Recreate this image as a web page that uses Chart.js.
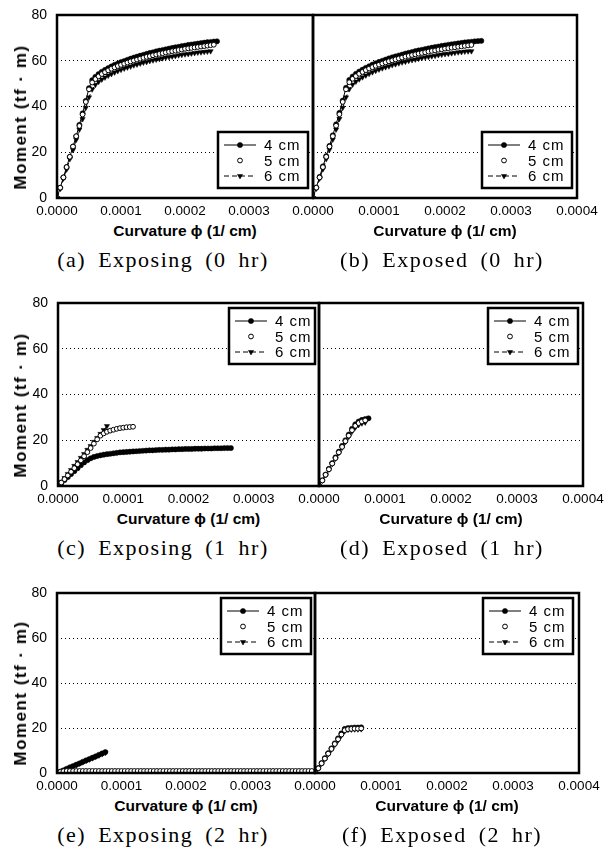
<!DOCTYPE html>
<html>
<head>
<meta charset="utf-8">
<script src="https://cdn.jsdelivr.net/npm/chart.js@4.4.1/dist/chart.umd.min.js"></script>
<style>
  body { margin: 0; background: #fff; }
  #fig { position: relative; width: 606px; height: 849px; overflow: hidden; background: #fff; }
  #fig canvas { position: absolute; }
  .ytitle { position: absolute; font: bold 17px "Liberation Sans", Arial, sans-serif; letter-spacing: 1.5px;
            white-space: nowrap; transform: translate(-50%, -50%) rotate(-90deg); }
  .xtitle { position: absolute; font: bold 15.5px "Liberation Sans", Arial, sans-serif;
            white-space: nowrap; transform: translate(-50%, -50%); }
  .cap { position: absolute; font: 22px "Liberation Serif", "Times New Roman", serif; letter-spacing: 1.5px;
         word-spacing: 5px; white-space: nowrap; transform: translate(-50%, -50%); }
</style>
</head>
<body>
<div id="fig"></div>
<script>
// curvature sample points, in 1e-6 (1/cm)
const phi = [0,5,10,15,20,25,30,35,40,45,50,55,60,65,70,75,80,85,90,95,
  100,105,110,115,120,125,130,135,140,145,150,155,160,165,170,175,180,185,190,195,
  200,205,210,215,220,225,230,235,240,245,250,255,260,265,270,275,280,285,290,295,
  300,305,310,315,320,325,330,335,340,345,350,355,360,365,370,375,380,385,390,395];

const seriesLabels = ['4 cm', '5 cm', '6 cm'];
const xTicks = ['0.0000', '0.0001', '0.0002', '0.0003', '0.0004'];
const yTicks = [0, 20, 40, 60, 80];
const captions = ['(a) Exposing (0 hr)', '(b) Exposed (0 hr)', '(c) Exposing (1 hr)',
  '(d) Exposed (1 hr)', '(e) Exposing (2 hr)', '(f) Exposed (2 hr)'];

// moment (tf·m) at each curvature point above
// (a) Exposing 0 hr
const a4 = [0,4.5,9,13.5,18,22.5,27,32,37,42.5,48,51.5,53,54.2,55.2,56,56.8,57.5,58.2,58.8,
  59.4,59.9,60.4,60.9,61.4,61.8,62.2,62.6,63,63.4,63.7,64.1,64.4,64.7,65,65.3,65.6,65.9,66.1,66.4,
  66.6,66.9,67.1,67.3,67.5,67.7,67.9,68.1,68.2,68.4,68.5];
const a5 = [0,4.5,9,13.5,18,22.5,27,31.5,36.5,42,47.5,50.5,52,53.2,54.2,55,55.8,56.5,57.1,57.7,
  58.2,58.7,59.2,59.7,60.1,60.5,60.9,61.3,61.7,62,62.4,62.7,63,63.3,63.6,63.9,64.2,64.4,64.7,64.9,
  65.2,65.4,65.6,65.8,66,66.2,66.4,66.6,66.8,67];
const a6 = [0,4,8.5,12.5,17,21,25.5,30,34.5,39.5,44,47.5,49.5,50.8,51.8,52.7,53.5,54.2,54.9,55.5,
  56.1,56.6,57.1,57.5,58,58.4,58.8,59.2,59.5,59.9,60.2,60.5,60.8,61.1,61.4,61.6,61.9,62.1,62.4,62.6,
  62.8,63,63.2,63.4,63.6,63.7,63.9,64,64.2];
// (b) Exposed 0 hr
const b4 = [0,4.6,9.2,13.8,18.3,22.8,27.4,32.2,37.2,42.6,48.2,51.6,53.1,54.3,55.3,56.1,56.9,57.6,58.3,58.9,
  59.5,60,60.5,61,61.5,61.9,62.3,62.7,63.1,63.5,63.8,64.2,64.5,64.8,65.1,65.4,65.7,66,66.2,66.5,
  66.7,67,67.2,67.4,67.6,67.8,68,68.2,68.3,68.5,68.6,68.7];
const b5 = [0,4.5,9,13.5,18,22.5,27,31.6,36.6,42,47.5,50.6,52.1,53.3,54.3,55.1,55.9,56.6,57.2,57.8,
  58.3,58.8,59.3,59.8,60.2,60.6,61,61.4,61.8,62.1,62.5,62.8,63.1,63.4,63.7,64,64.3,64.5,64.8,65,
  65.3,65.5,65.7,65.9,66.1,66.3,66.5,66.7,66.9];
const b6 = [0,4.1,8.5,12.6,17,21.2,25.6,30,34.6,39.5,44,47.6,49.6,50.9,51.9,52.8,53.6,54.3,55,55.6,
  56.2,56.7,57.2,57.6,58.1,58.5,58.9,59.3,59.6,60,60.3,60.6,60.9,61.2,61.5,61.7,62,62.2,62.5,62.7,
  62.9,63.1,63.3,63.5,63.7,63.8,64,64.1,64.2];
// (c) Exposing 1 hr
const c4 = [0,1.3,2.6,3.9,5.2,6.5,7.8,9.1,10.3,11.3,12.1,12.7,13.1,13.4,13.7,13.9,14.1,14.3,14.5,14.7,
  14.8,14.9,15,15.1,15.2,15.3,15.4,15.5,15.6,15.6,15.7,15.8,15.8,15.9,15.9,16,16,16.1,16.1,16.2,
  16.2,16.2,16.3,16.3,16.3,16.4,16.4,16.4,16.5,16.5,16.5,16.6,16.6,16.6];
const c5 = [0,1.5,3,4.6,6.2,7.8,9.5,11.2,13,14.8,16.6,18.5,20.4,22,23,23.7,24.2,24.6,25,25.3,
  25.5,25.7,25.8,25.9];
const c6 = [0,1.8,3.5,5.3,7,8.8,10.5,12.3,14,15.8,17.5,19.3,21,22.8,24.5,26.2];
// (d) Exposed 1 hr
const d4 = [0,2.5,5,7.5,10,12.5,15,17.5,20,22.5,25,27,28.2,28.9,29.3,29.6];
const d5 = [0,2.4,4.9,7.3,9.8,12.2,14.7,17.1,19.6,22,24.4,26.3,27.5,28.2,28.7];
const d6 = [0,2.4,4.8,7.2,9.6,12,14.4,16.8,19.2,21.5,23.8,25.6,26.7,27.4,27.8];
// (e) Exposing 2 hr
const e4 = [0,0.6,1.2,1.9,2.5,3.1,3.7,4.3,5,5.6,6.2,6.8,7.4,8.1,8.7,9.3];
const e5 = [0,0.5,0.8,0.9,0.9,0.9,0.9,0.9,0.9,0.9,0.9,0.9,0.9,0.9,0.9,0.9,0.9,0.9,0.9,0.9,
  0.9,0.9,0.9,0.9,0.9,0.9,0.9,0.9,0.9,0.9,0.9,0.9,0.9,0.9,0.9,0.9,0.9,0.9,0.9,0.9,
  0.9,0.9,0.9,0.9,0.9,0.9,0.9,0.9,0.9,0.9,0.9,0.9,0.9,0.9,0.9,0.9,0.9,0.9,0.9,0.9,
  0.9,0.9,0.9,0.9,0.9,0.9,0.9,0.9,0.9,0.9,0.9,0.9,0.9,0.9,0.9,0.9,0.9,0.9,0.9,0.9];
const e6 = [0,0.6,1.2,1.8,2.4,3,3.6,4.2,4.8,5.4,6,6.6,7.2,7.8,8.4,9];
// (f) Exposed 2 hr
const f4 = [0,2.2,4.4,6.6,8.8,11,13.2,15.4,17.6,19.6,20,20.1,20.2,20.2,20.3];
const f5 = [0,2.1,4.3,6.4,8.6,10.7,12.9,15,17.1,19,19.5,19.6,19.7,19.7,19.8];
const f6 = [0,2.1,4.2,6.3,8.4,10.5,12.6,14.6,16.7,18.6,19.2,19.3,19.4,19.4,19.5];

const fig = document.getElementById('fig');
const W = 606;

// draws the thick frame round the plot area
const framePlugin = {
  id: 'frame',
  afterDatasetsDraw(chart) {
    const { ctx, chartArea: a } = chart;
    ctx.save();
    ctx.lineWidth = 2.5;
    ctx.strokeStyle = '#000';
    ctx.strokeRect(a.left, a.top, a.right - a.left, a.bottom - a.top);
    ctx.restore();
  }
};

// boxed legend drawn inside the plot area
const boxLegend = {
  id: 'boxLegend',
  afterDraw(chart, args, o) {
    const { ctx, chartArea: a } = chart;
    const w = o.width, h = 56;
    const x = a.right - o.dx - w;
    const y = o.corner === 'bottom' ? a.bottom - o.dy - h : a.top + o.dy;
    ctx.save();
    ctx.fillStyle = '#fff';
    ctx.fillRect(x, y, w, h);
    ctx.lineWidth = 2.5;
    ctx.strokeStyle = '#000';
    ctx.strokeRect(x, y, w, h);
    chart.data.datasets.forEach((d, i) => {
      const cy = y + 13 + i * 15.5;
      ctx.strokeStyle = '#000';
      if (d.showLine) {
        ctx.lineWidth = 1;
        ctx.setLineDash(d.borderDash || []);
        ctx.beginPath();
        ctx.moveTo(x + 6, cy);
        ctx.lineTo(x + 38, cy);
        ctx.stroke();
      }
      ctx.setLineDash([]);
      ctx.fillStyle = d.pointBackgroundColor;
      ctx.lineWidth = d.pointBorderWidth;
      Chart.helpers.drawPoint(ctx, {
        pointStyle: d.pointStyle, rotation: d.rotation || 0,
        radius: d.pointRadius, borderWidth: d.pointBorderWidth
      }, x + 22, cy);
      ctx.fillStyle = '#000';
      ctx.font = '15px "Liberation Sans", Arial, sans-serif';
      if ('letterSpacing' in ctx) ctx.letterSpacing = '1px';
      ctx.textBaseline = 'middle';
      ctx.fillText(d.label, x + 46, cy + 1);
      if ('letterSpacing' in ctx) ctx.letterSpacing = '0px';
    });
    ctx.restore();
  }
};

function series(m4, m5, m6) {
  const pts = m => m.map((v, i) => ({ x: phi[i] * 1e-6, y: v }));
  return [
    { label: seriesLabels[0], data: pts(m4), order: 1, showLine: true, borderColor: '#000', borderWidth: 1,
      pointStyle: 'circle', pointRadius: 2.6, pointBackgroundColor: '#000', pointBorderColor: '#000', pointBorderWidth: 0.5 },
    { label: seriesLabels[1], data: pts(m5), order: 0, showLine: false,
      pointStyle: 'circle', pointRadius: 2.4, pointBackgroundColor: '#fff', pointBorderColor: '#000', pointBorderWidth: 1 },
    { label: seriesLabels[2], data: pts(m6), order: 2, showLine: true, borderColor: '#000', borderWidth: 1, borderDash: [5, 3],
      pointStyle: 'triangle', rotation: 180, pointRadius: 3, pointBackgroundColor: '#000', pointBorderColor: '#000', pointBorderWidth: 0.5 }
  ];
}

function addText(cls, text, x, y) {
  const el = document.createElement('div');
  el.className = cls;
  el.textContent = text;
  el.style.left = x + 'px';
  el.style.top = y + 'px';
  fig.appendChild(el);
}

// side: 'left' shows the y ticks, 'right' shares them
function panel(side, row, sets, legend, caption, capX) {
  const { T, B, L, M, R } = row;
  const left = side === 'left';
  const cx = left ? 0 : M - 25;
  const cw = left ? M + 2 : W - cx;
  const ch = B - T + 10 + 22;
  const canvas = document.createElement('canvas');
  canvas.width = cw;
  canvas.height = ch;
  canvas.style.left = cx + 'px';
  canvas.style.top = (T - 10) + 'px';
  fig.appendChild(canvas);

  new Chart(canvas, {
    type: 'scatter',
    data: { datasets: sets },
    options: {
      responsive: false,
      animation: false,
      events: [],
      layout: { autoPadding: false, padding: { top: 10, left: 0, bottom: 0, right: left ? 2 : W - R } },
      plugins: {
        legend: { display: false },
        tooltip: { enabled: false },
        boxLegend: legend
      },
      scales: {
        x: {
          type: 'linear', min: 0, max: 0.0004,
          afterBuildTicks: s => { s.ticks = xTicks.map(t => ({ value: parseFloat(t) })); },
          ticks: {
            autoSkip: false, maxRotation: 0, padding: 5, color: '#000',
            font: { family: 'Liberation Sans', size: 13.5 },
            callback: (v, i) => (left && i === xTicks.length - 1) ? '' : xTicks[i]
          },
          grid: { display: false, drawTicks: false },
          border: { display: false },
          afterFit: s => { s.height = 22; s.paddingLeft = 0; s.paddingRight = 0; }
        },
        y: {
          min: 0, max: 80,
          afterBuildTicks: s => { s.ticks = yTicks.map(v => ({ value: v })); },
          ticks: { display: left, padding: 10, color: '#000', font: { family: 'Liberation Sans', size: 14 } },
          grid: {
            drawTicks: false, lineWidth: 1,
            color: c => (c.tick && c.tick.value > 0 && c.tick.value < 80) ? '#000' : 'rgba(0,0,0,0)'
          },
          border: { display: false, dash: [1, 3] },
          afterFit: s => { s.width = left ? L : 25; s.paddingTop = 0; s.paddingBottom = 0; }
        }
      }
    },
    plugins: [framePlugin, boxLegend]
  });

  const px = left ? (L + M) / 2 : (M + R) / 2;
  addText('xtitle', 'Curvature ϕ (1/ cm)', px, B + 33);
  if (left) addText('ytitle', 'Moment (tf · m)', 21, (T + B) / 2 + 10);
  addText('cap', caption, capX, B + 62);
}

const rows = [
  { T: 15, B: 198, L: 57, M: 313, R: 577 },
  { T: 303, B: 486, L: 58, M: 319, R: 583 },
  { T: 593, B: 773, L: 57, M: 315, R: 579 }
];
const legBottom = { corner: 'bottom', dx: 5, dy: 10, width: 90 };
const legTop = { corner: 'top', dx: 5, dy: 5, width: 90 };

panel('left', rows[0], series(a4, a5, a6), legBottom, captions[0], 163);
panel('right', rows[0], series(b4, b5, b6), legBottom, captions[1], 442);
panel('left', rows[1], series(c4, c5, c6), { ...legTop, dx: 4, width: 86 }, captions[2], 163);
panel('right', rows[1], series(d4, d5, d6), legTop, captions[3], 442);
panel('left', rows[2], series(e4, e5, e6), { ...legTop, dx: 4 }, captions[4], 163);
panel('right', rows[2], series(f4, f5, f6), { ...legTop, dx: 6 }, captions[5], 442);
</script>
</body>
</html>
